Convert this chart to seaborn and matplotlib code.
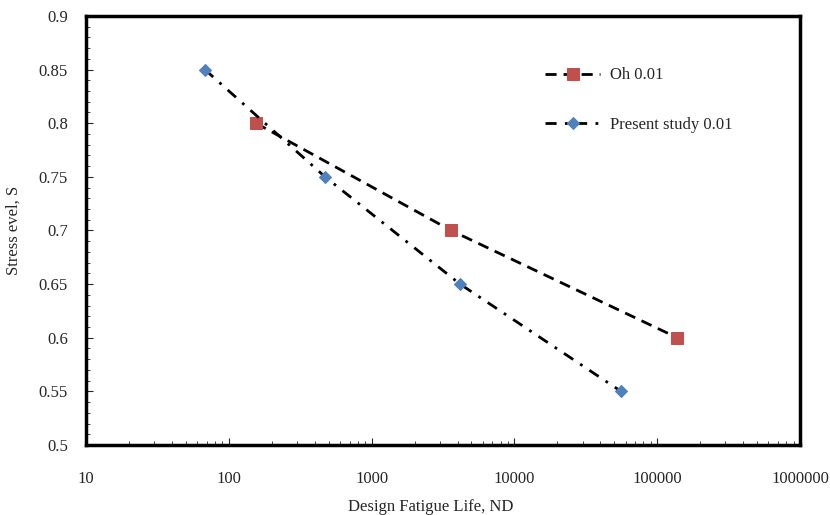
import numpy as np
import pandas as pd
import seaborn as sns
import matplotlib.pyplot as plt
from matplotlib.ticker import FixedLocator, FuncFormatter, LogLocator, MultipleLocator

# Oh 0.01
oh_life = [155, 3600, 138000]
oh_stress = [0.80, 0.70, 0.60]

# Present study 0.01
ps_life = [68, 472, 4160, 55700]
ps_stress = [0.85, 0.75, 0.65, 0.55]

y_ticks = [0.5, 0.55, 0.6, 0.65, 0.7, 0.75, 0.8, 0.85, 0.9]
x_ticks = [10, 100, 1000, 10000, 100000, 1000000]

sns.set_style("white")
plt.rcParams['font.family'] = ['Liberation Serif', 'DejaVu Serif']

fig = plt.figure(figsize=(8.3, 5.15), dpi=100)
ax = fig.add_axes([0.1036, 0.136, 0.8604, 0.833])

df_oh = pd.DataFrame({"life": oh_life, "stress": oh_stress})
df_ps = pd.DataFrame({"life": ps_life, "stress": ps_stress})

sns.lineplot(data=df_oh, x="life", y="stress", ax=ax, color="black",
             linestyle=(0, (4, 2.5)), linewidth=2, label="Oh 0.01",
             marker="s", markersize=9, markerfacecolor="#C0504D",
             markeredgecolor="#C0504D", sort=False)
sns.lineplot(data=df_ps, x="life", y="stress", ax=ax, color="black",
             linestyle=(0, (4, 3, 1, 3)), linewidth=2, label="Present study 0.01",
             marker="D", markersize=6, markerfacecolor="#4F81BD",
             markeredgecolor="#4F81BD", sort=False)

ax.set_xscale("log")
ax.set_xlim(10, 1000000)
ax.set_ylim(0.5, 0.9)
ax.xaxis.set_major_locator(FixedLocator(x_ticks))
ax.xaxis.set_minor_locator(LogLocator(base=10, subs=np.arange(2, 10)))
ax.xaxis.set_major_formatter(FuncFormatter(lambda v, p: f"{int(round(v))}"))
ax.yaxis.set_major_locator(FixedLocator(y_ticks))
ax.yaxis.set_minor_locator(MultipleLocator(0.01))
ax.yaxis.set_major_formatter(FuncFormatter(lambda v, p: f"{v:g}"))

ax.tick_params(which="major", direction="in", length=5, width=0.8, labelsize=12,
               bottom=True, left=True, top=False, right=False)
ax.tick_params(which="minor", direction="in", length=3, width=0.6,
               bottom=True, left=True, top=False, right=False)
ax.tick_params(axis="y", which="major", pad=13)
ax.tick_params(axis="x", which="major", pad=19)

for s in ax.spines.values():
    s.set_linewidth(2.5)
    s.set_color("black")

ax.set_xlabel("Design Fatigue Life, ND", fontsize=12, labelpad=5)
ax.xaxis.set_label_coords(0.482, -0.125)
ax.set_ylabel("Stress evel, S", fontsize=12, labelpad=12)

ax.legend(loc="upper left", bbox_to_anchor=(0.622, 0.915), frameon=False,
          fontsize=12, handlelength=3.3, labelspacing=2.0, handletextpad=0.6)

fig.savefig("out.png", dpi=100)
